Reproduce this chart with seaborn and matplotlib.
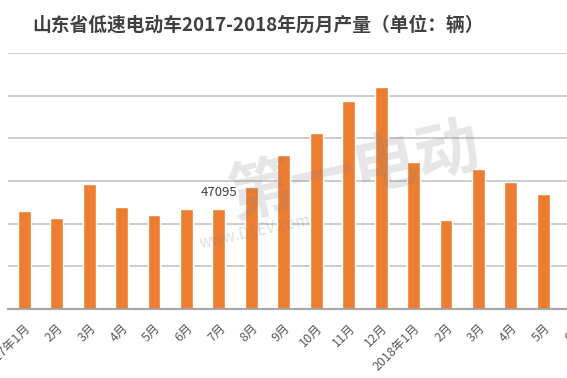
import matplotlib
matplotlib.use('Agg')
import matplotlib.pyplot as plt
import seaborn as sns

# monthly output, 2017-01 .. 2018-06 (units: vehicles)
months = ['2017年1月', '2月', '3月', '4月', '5月', '6月', '7月', '8月', '9月',
          '10月', '11月', '12月', '2018年1月', '2月', '3月', '4月', '5月', '6月']
output = [46150, 42700, 58440, 47900, 44110, 46810, 47095, 57350, 72150,
          82410, 97680, 104020, 68700, 41600, 65530, 59710, 53710, 50000]
label_idx = 6
label_text = '47095'

sns.set_style('white')
plt.rcParams['font.family'] = ['Noto Sans CJK SC', 'DejaVu Sans']

fig = plt.figure(figsize=(5.67, 3.78), dpi=100)
ax = fig.add_axes([8 / 567, 69 / 378, 584 / 567, 256 / 378])

sns.barplot(x=list(range(len(months))), y=output, color='#ED7D31',
            saturation=1, width=0.4, ax=ax, zorder=3)

ax.set_xlim(-0.5, len(months) - 0.5)
ax.set_ylim(0, 120000)
ax.set_yticks(range(0, 120001, 20000))
ax.set_yticklabels([])
ax.tick_params(axis='y', length=0)
ax.yaxis.grid(True, color='#c4c4c4', linewidth=1.2, zorder=0)
ax.set_axisbelow(True)

ax.set_xticks(range(len(months)))
ax.set_xticklabels(months, rotation=45, ha='right', va='top',
                   rotation_mode='anchor', fontsize=9, color='#595959')
ax.tick_params(axis='x', length=0, pad=9)

for s in ['top', 'left', 'right']:
    ax.spines[s].set_visible(False)
ax.spines['bottom'].set_color('#a6a6a6')
ax.spines['bottom'].set_linewidth(1.5)
ax.spines['bottom'].set_zorder(4)

ax.annotate(label_text, xy=(label_idx, output[label_idx]), xytext=(0, 7),
            textcoords='offset points', ha='center', va='bottom',
            fontsize=9.5, color='#404040', zorder=6,
            bbox=dict(boxstyle='square,pad=0.1', fc='white', ec='none', alpha=0.6))

# watermark
fig.text(355 / 567, 1 - 172 / 378, '第一电动', fontsize=46, fontweight='bold',
         color='#808080', alpha=0.2, rotation=12, ha='center', va='center', zorder=10)
fig.text(255 / 567, 1 - 232 / 378, 'www.D1EV.com', fontsize=11, style='italic',
         color='#808080', alpha=0.25, rotation=12, ha='center', va='center', zorder=10)

fig.text(258 / 567, 1 - 25 / 378, '山东省低速电动车2017-2018年历月产量（单位：辆）',
         fontsize=13.5, fontweight='bold', color='#404040', ha='center', va='center')

fig.savefig('out.png', dpi=100)
